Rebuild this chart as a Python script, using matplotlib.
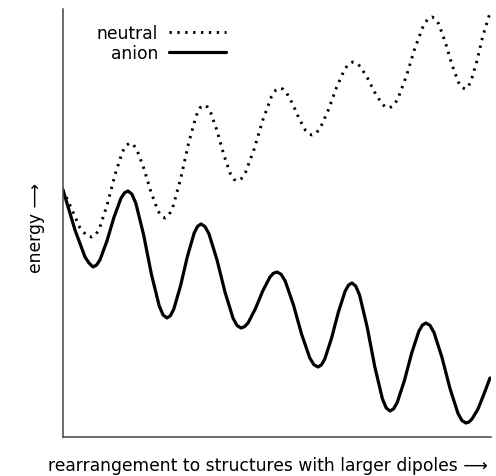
import matplotlib
matplotlib.use("Agg")
import matplotlib.pyplot as plt

plt.rcParams['font.family'] = ['DejaVu Sans']

# position along the rearrangement coordinate and energy (arbitrary units)
anion_x = [0, 12, 22, 26, 30, 33.5, 37, 44, 51, 58, 61.5, 65,
           68.9, 72.8, 80.6, 88.4, 96.2, 100.1, 104,
           107.4, 110.8, 117.6, 124.4, 131.2, 134.6, 138,
           142, 146, 154, 162, 170, 174, 178,
           181.6, 185.2, 192.4, 199.6, 206.8, 210.4, 214,
           218.1, 222.2, 230.4, 238.6, 246.8, 250.9, 255,
           258.4, 261.8, 268.6, 275.4, 282.2, 285.6, 289,
           292.8, 296.6, 304.2, 311.8, 319.4, 323.2, 327,
           330.6, 334.2, 341.4, 348.6, 355.8, 359.4, 363,
           367, 371, 379, 387, 395, 399, 403,
           406, 409, 415, 421, 427]
anion_e = [247, 207, 180, 174, 170, 171.9, 177.2, 196.2, 219.8, 238.8, 244.2, 246,
           242.9, 233.9, 202.2, 162.8, 131.1, 122.0, 119,
           121.3, 127.9, 151.4, 180.6, 204.1, 210.7, 213,
           210.5, 203.1, 177.1, 144.9, 118.9, 111.5, 109,
           110.4, 114.3, 128.3, 145.7, 159.7, 163.7, 165,
           162.7, 156.0, 132.2, 102.8, 79.0, 72.3, 70,
           72.1, 78.0, 99.0, 125.0, 146.0, 152.0, 154,
           150.9, 141.8, 109.8, 70.2, 38.2, 29.1, 26,
           28.2, 34.4, 56.4, 83.6, 105.6, 111.9, 114,
           111.6, 104.5, 79.5, 48.5, 23.5, 16.4, 14,
           15, 18, 28, 43, 59]

neutral_x = [0, 10, 17, 24, 29, 32.8, 36.6, 44.2, 51.8, 59.4, 63.2, 67,
             70.5, 74, 81, 88, 95, 98.5, 102,
             105.9, 109.8, 117.6, 125.4, 133.2, 137.1, 141,
             144.3, 147.6, 154.2, 160.8, 167.4, 170.7, 174,
             178.3, 182.6, 191.2, 199.8, 208.4, 212.7, 217,
             220.2, 223.4, 229.8, 236.2, 242.6, 245.8, 249,
             253.1, 257.2, 265.4, 273.6, 281.8, 285.9, 290,
             293.6, 297.2, 304.4, 311.6, 318.8, 322.4, 326,
             330.3, 334.6, 343.2, 351.8, 360.4, 364.7, 369,
             372.3, 375.6, 382.2, 388.8, 395.4, 398.7, 402,
             405, 408, 414, 420, 427]
neutral_e = [247, 225, 209, 201, 200, 202.3, 208.9, 232.4, 261.6, 285.1, 291.7, 294,
             292.2, 286.9, 268.1, 244.9, 226.1, 220.8, 219,
             221.8, 229.7, 258.0, 293.0, 321.3, 329.3, 332,
             330.1, 324.8, 305.8, 282.2, 263.2, 257.8, 256,
             258.3, 264.8, 288.1, 316.9, 340.2, 346.8, 349,
             347.8, 344.5, 332.8, 318.2, 306.5, 303.1, 302,
             303.8, 308.9, 327.2, 349.8, 368.1, 373.2, 375,
             373.9, 370.6, 359.1, 344.9, 333.4, 330.1, 329,
             331.2, 337.6, 360.4, 388.6, 411.4, 417.8, 420,
             418.2, 413.2, 395.2, 372.8, 354.8, 349.7, 348,
             350, 355.8, 376.3, 401.7, 424]

series_labels = ["neutral", "anion"]
xlabel = "rearrangement to structures with larger dipoles \u27F6"
ylabel = "energy \u27F6"

fig = plt.figure(figsize=(4.96, 4.77), dpi=100)
ax = fig.add_axes([63/496, 1-438/477, 428/496, 428/477])

ax.plot(neutral_x, neutral_e, color='black', lw=2.1, linestyle=(0, (0.8, 1.9)),
        label=series_labels[0])
ax.plot(anion_x, anion_e, color='black', lw=2.3, solid_joinstyle='round',
        solid_capstyle='round', label=series_labels[1])

ax.set_xlim(0, 428)
ax.set_ylim(0, 428)
ax.set_xticks([])
ax.set_yticks([])
for s in ['top', 'right']:
    ax.spines[s].set_visible(False)
for s in ['left', 'bottom']:
    ax.spines[s].set_color('#444444')
    ax.spines[s].set_linewidth(1.1)

ax.set_xlabel(xlabel, fontsize=12.3, ha='left', va='center')
ax.xaxis.set_label_coords(-0.035, -0.065)
ax.set_ylabel(ylabel, fontsize=12.3, va='center')
ax.yaxis.set_label_coords(-0.063, 0.49)

leg = ax.legend(loc='upper left', bbox_to_anchor=(0.045, 1.0), frameon=False,
                markerfirst=False, fontsize=12.3, handlelength=3.3,
                handletextpad=0.65, labelspacing=0.15, borderpad=0.35)
fig.savefig("out.png", dpi=100)
